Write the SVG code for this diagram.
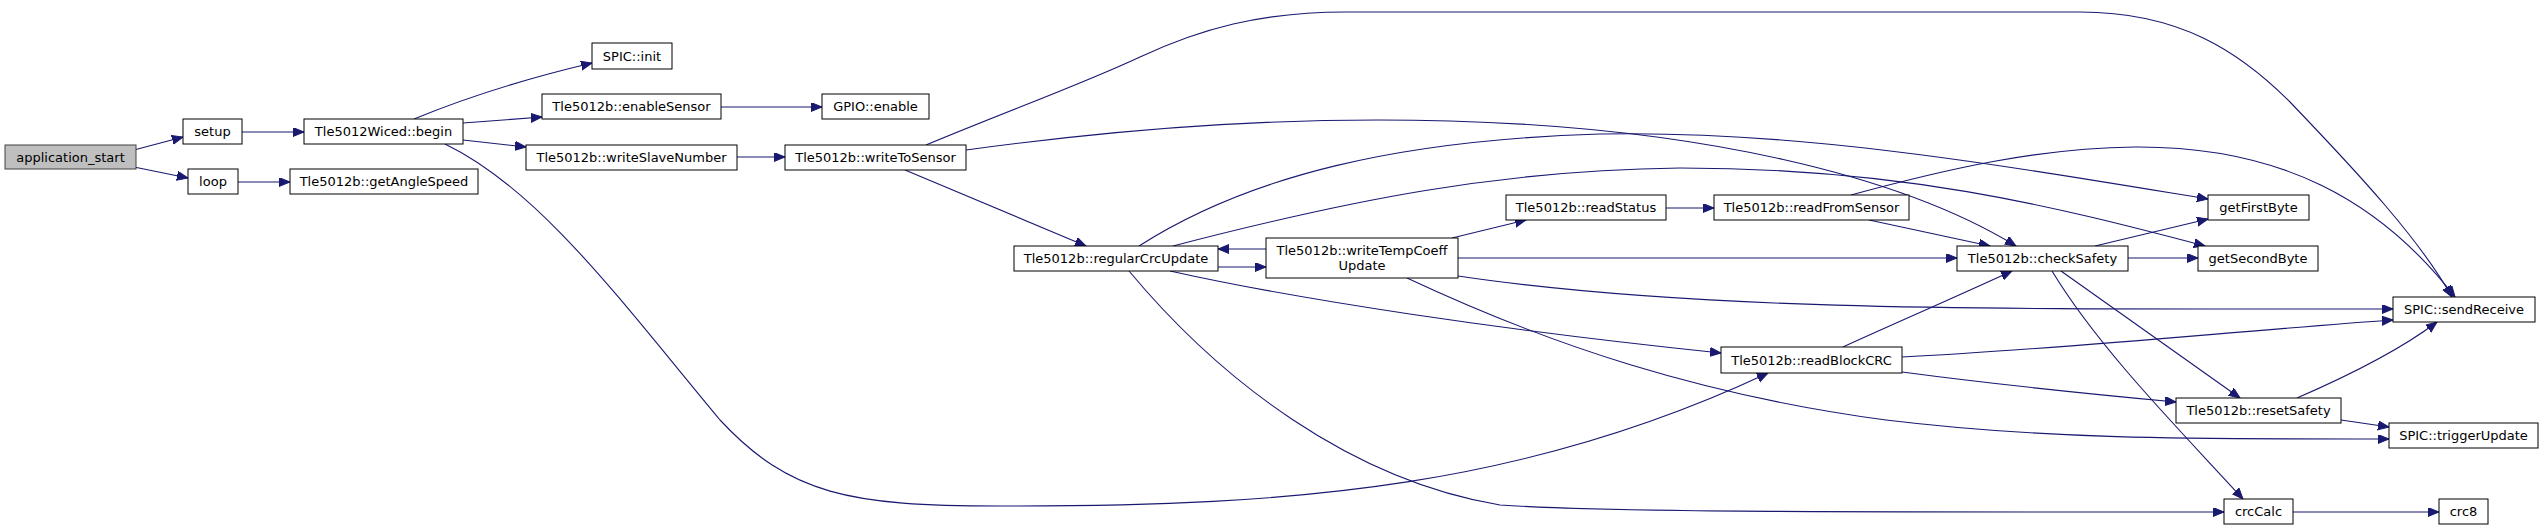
<svg xmlns="http://www.w3.org/2000/svg" width="2544" height="531" viewBox="0 0 2544 531">
<style>
.n rect{fill:#ffffff;stroke:#000000;stroke-width:1}
.n.root rect{fill:#bfbfbf;stroke:#404040}
.n text{font-family:"DejaVu Sans",sans-serif;font-size:13px;text-anchor:middle;fill:#000000}
#edges path{fill:none;stroke:#191970;stroke-width:1.1;marker-end:url(#arr)}
</style>
<defs>
<marker id="arr" markerUnits="userSpaceOnUse" markerWidth="12" markerHeight="10" refX="11" refY="4.5" orient="auto">
<path d="M0,0 L11,4.5 L0,9 z" fill="#191970" stroke="#191970" stroke-width="1"/>
</marker>
</defs>
<rect width="2544" height="531" fill="#ffffff"/>
<g id="edges">
<path d="M134,150 L183,137"/>
<path d="M134,167 L188,178"/>
<path d="M242,132 L304,132"/>
<path d="M238,182 L290,182"/>
<path d="M414,119 C460,100 520,80 592,63"/>
<path d="M463,123 L542,117"/>
<path d="M463,140 L526,147"/>
<path d="M445,144 C540,190 620,300 720,420 C790,495 850,506 1000,506 C1300,507 1530,485 1768,373"/>
<path d="M721,107 L822,107"/>
<path d="M737,157 L785,157"/>
<path d="M926,145 C1010,110 1080,85 1140,57 C1200,29 1260,12 1346,12 L2080,12 C2180,12 2240,52 2290,102 C2360,175 2420,240 2452,297"/>
<path d="M966,150 C1150,125 1300,117 1450,121 C1700,128 1900,175 2016,246"/>
<path d="M905,170 L1086,246"/>
<path d="M1218,267 L1266,267"/>
<path d="M1266,249 L1218,249"/>
<path d="M1139,246 C1250,175 1400,140 1600,134 C1800,130 2000,165 2208,199"/>
<path d="M1173,246 C1350,200 1500,170 1680,168 C1900,168 2050,205 2205,246"/>
<path d="M1170,271 C1300,300 1500,330 1721,353"/>
<path d="M1129,271 C1220,380 1350,480 1500,505 C1600,512 1800,512 2224,512"/>
<path d="M1452,238 L1526,220"/>
<path d="M1458,258 L1957,258"/>
<path d="M1458,276 C1700,312 2000,309 2393,309"/>
<path d="M1407,278 C1550,345 1700,395 1886,420 C2050,440 2200,439 2389,439"/>
<path d="M1666,208 L1714,208"/>
<path d="M1869,220 L1990,246"/>
<path d="M1851,195 C1950,168 2040,148 2135,147 C2280,146 2380,200 2455,297"/>
<path d="M2095,246 L2208,219"/>
<path d="M2128,258 L2198,258"/>
<path d="M2061,271 L2240,398"/>
<path d="M2052,271 C2100,350 2180,430 2243,499"/>
<path d="M1843,347 C1880,330 1960,295 2012,271"/>
<path d="M1902,357 C2050,350 2250,330 2393,320"/>
<path d="M1902,372 C2000,385 2100,395 2176,402"/>
<path d="M2297,398 C2350,375 2400,350 2437,322"/>
<path d="M2341,420 L2389,427"/>
<path d="M2293,512 L2439,512"/>
</g>
<g id="application_start" class="n root"><rect x="5" y="145" width="131" height="24"/><text x="70.5" y="161.5">application_start</text></g>
<g id="setup" class="n"><rect x="183" y="119" width="59" height="25"/><text x="212.5" y="136">setup</text></g>
<g id="loop" class="n"><rect x="188" y="169" width="50" height="25"/><text x="213" y="186">loop</text></g>
<g id="begin" class="n"><rect x="304" y="119" width="159" height="25"/><text x="383.5" y="136">Tle5012Wiced::begin</text></g>
<g id="getAngleSpeed" class="n"><rect x="290" y="169" width="188" height="25"/><text x="384" y="186">Tle5012b::getAngleSpeed</text></g>
<g id="spic_init" class="n"><rect x="592" y="43" width="80" height="26"/><text x="632" y="60.5">SPIC::init</text></g>
<g id="enableSensor" class="n"><rect x="542" y="94" width="179" height="25"/><text x="631.5" y="111">Tle5012b::enableSensor</text></g>
<g id="writeSlaveNumber" class="n"><rect x="526" y="145" width="211" height="25"/><text x="631.5" y="162">Tle5012b::writeSlaveNumber</text></g>
<g id="gpio_enable" class="n"><rect x="822" y="94" width="107" height="25"/><text x="875.5" y="111">GPIO::enable</text></g>
<g id="writeToSensor" class="n"><rect x="785" y="145" width="181" height="25"/><text x="875.5" y="162">Tle5012b::writeToSensor</text></g>
<g id="regularCrcUpdate" class="n"><rect x="1014" y="246" width="204" height="25"/><text x="1116" y="263">Tle5012b::regularCrcUpdate</text></g>
<g id="writeTempCoeffUpdate" class="n"><rect x="1266" y="238" width="192" height="40"/><text x="1362" y="255">Tle5012b::writeTempCoeff</text><text x="1362" y="270">Update</text></g>
<g id="readStatus" class="n"><rect x="1506" y="195" width="160" height="25"/><text x="1586" y="212">Tle5012b::readStatus</text></g>
<g id="readFromSensor" class="n"><rect x="1714" y="195" width="195" height="25"/><text x="1811.5" y="212">Tle5012b::readFromSensor</text></g>
<g id="readBlockCRC" class="n"><rect x="1721" y="347" width="181" height="26"/><text x="1811.5" y="364.5">Tle5012b::readBlockCRC</text></g>
<g id="checkSafety" class="n"><rect x="1957" y="246" width="171" height="25"/><text x="2042.5" y="263">Tle5012b::checkSafety</text></g>
<g id="getFirstByte" class="n"><rect x="2208" y="195" width="101" height="25"/><text x="2258.5" y="212">getFirstByte</text></g>
<g id="getSecondByte" class="n"><rect x="2198" y="246" width="120" height="25"/><text x="2258" y="263">getSecondByte</text></g>
<g id="resetSafety" class="n"><rect x="2176" y="398" width="165" height="25"/><text x="2258.5" y="415">Tle5012b::resetSafety</text></g>
<g id="crcCalc" class="n"><rect x="2224" y="499" width="69" height="25"/><text x="2258.5" y="516">crcCalc</text></g>
<g id="sendReceive" class="n"><rect x="2393" y="297" width="142" height="25"/><text x="2464" y="314">SPIC::sendReceive</text></g>
<g id="triggerUpdate" class="n"><rect x="2389" y="423" width="149" height="25"/><text x="2463.5" y="440">SPIC::triggerUpdate</text></g>
<g id="crc8" class="n"><rect x="2439" y="499" width="49" height="25"/><text x="2463.5" y="516">crc8</text></g>
</svg>
